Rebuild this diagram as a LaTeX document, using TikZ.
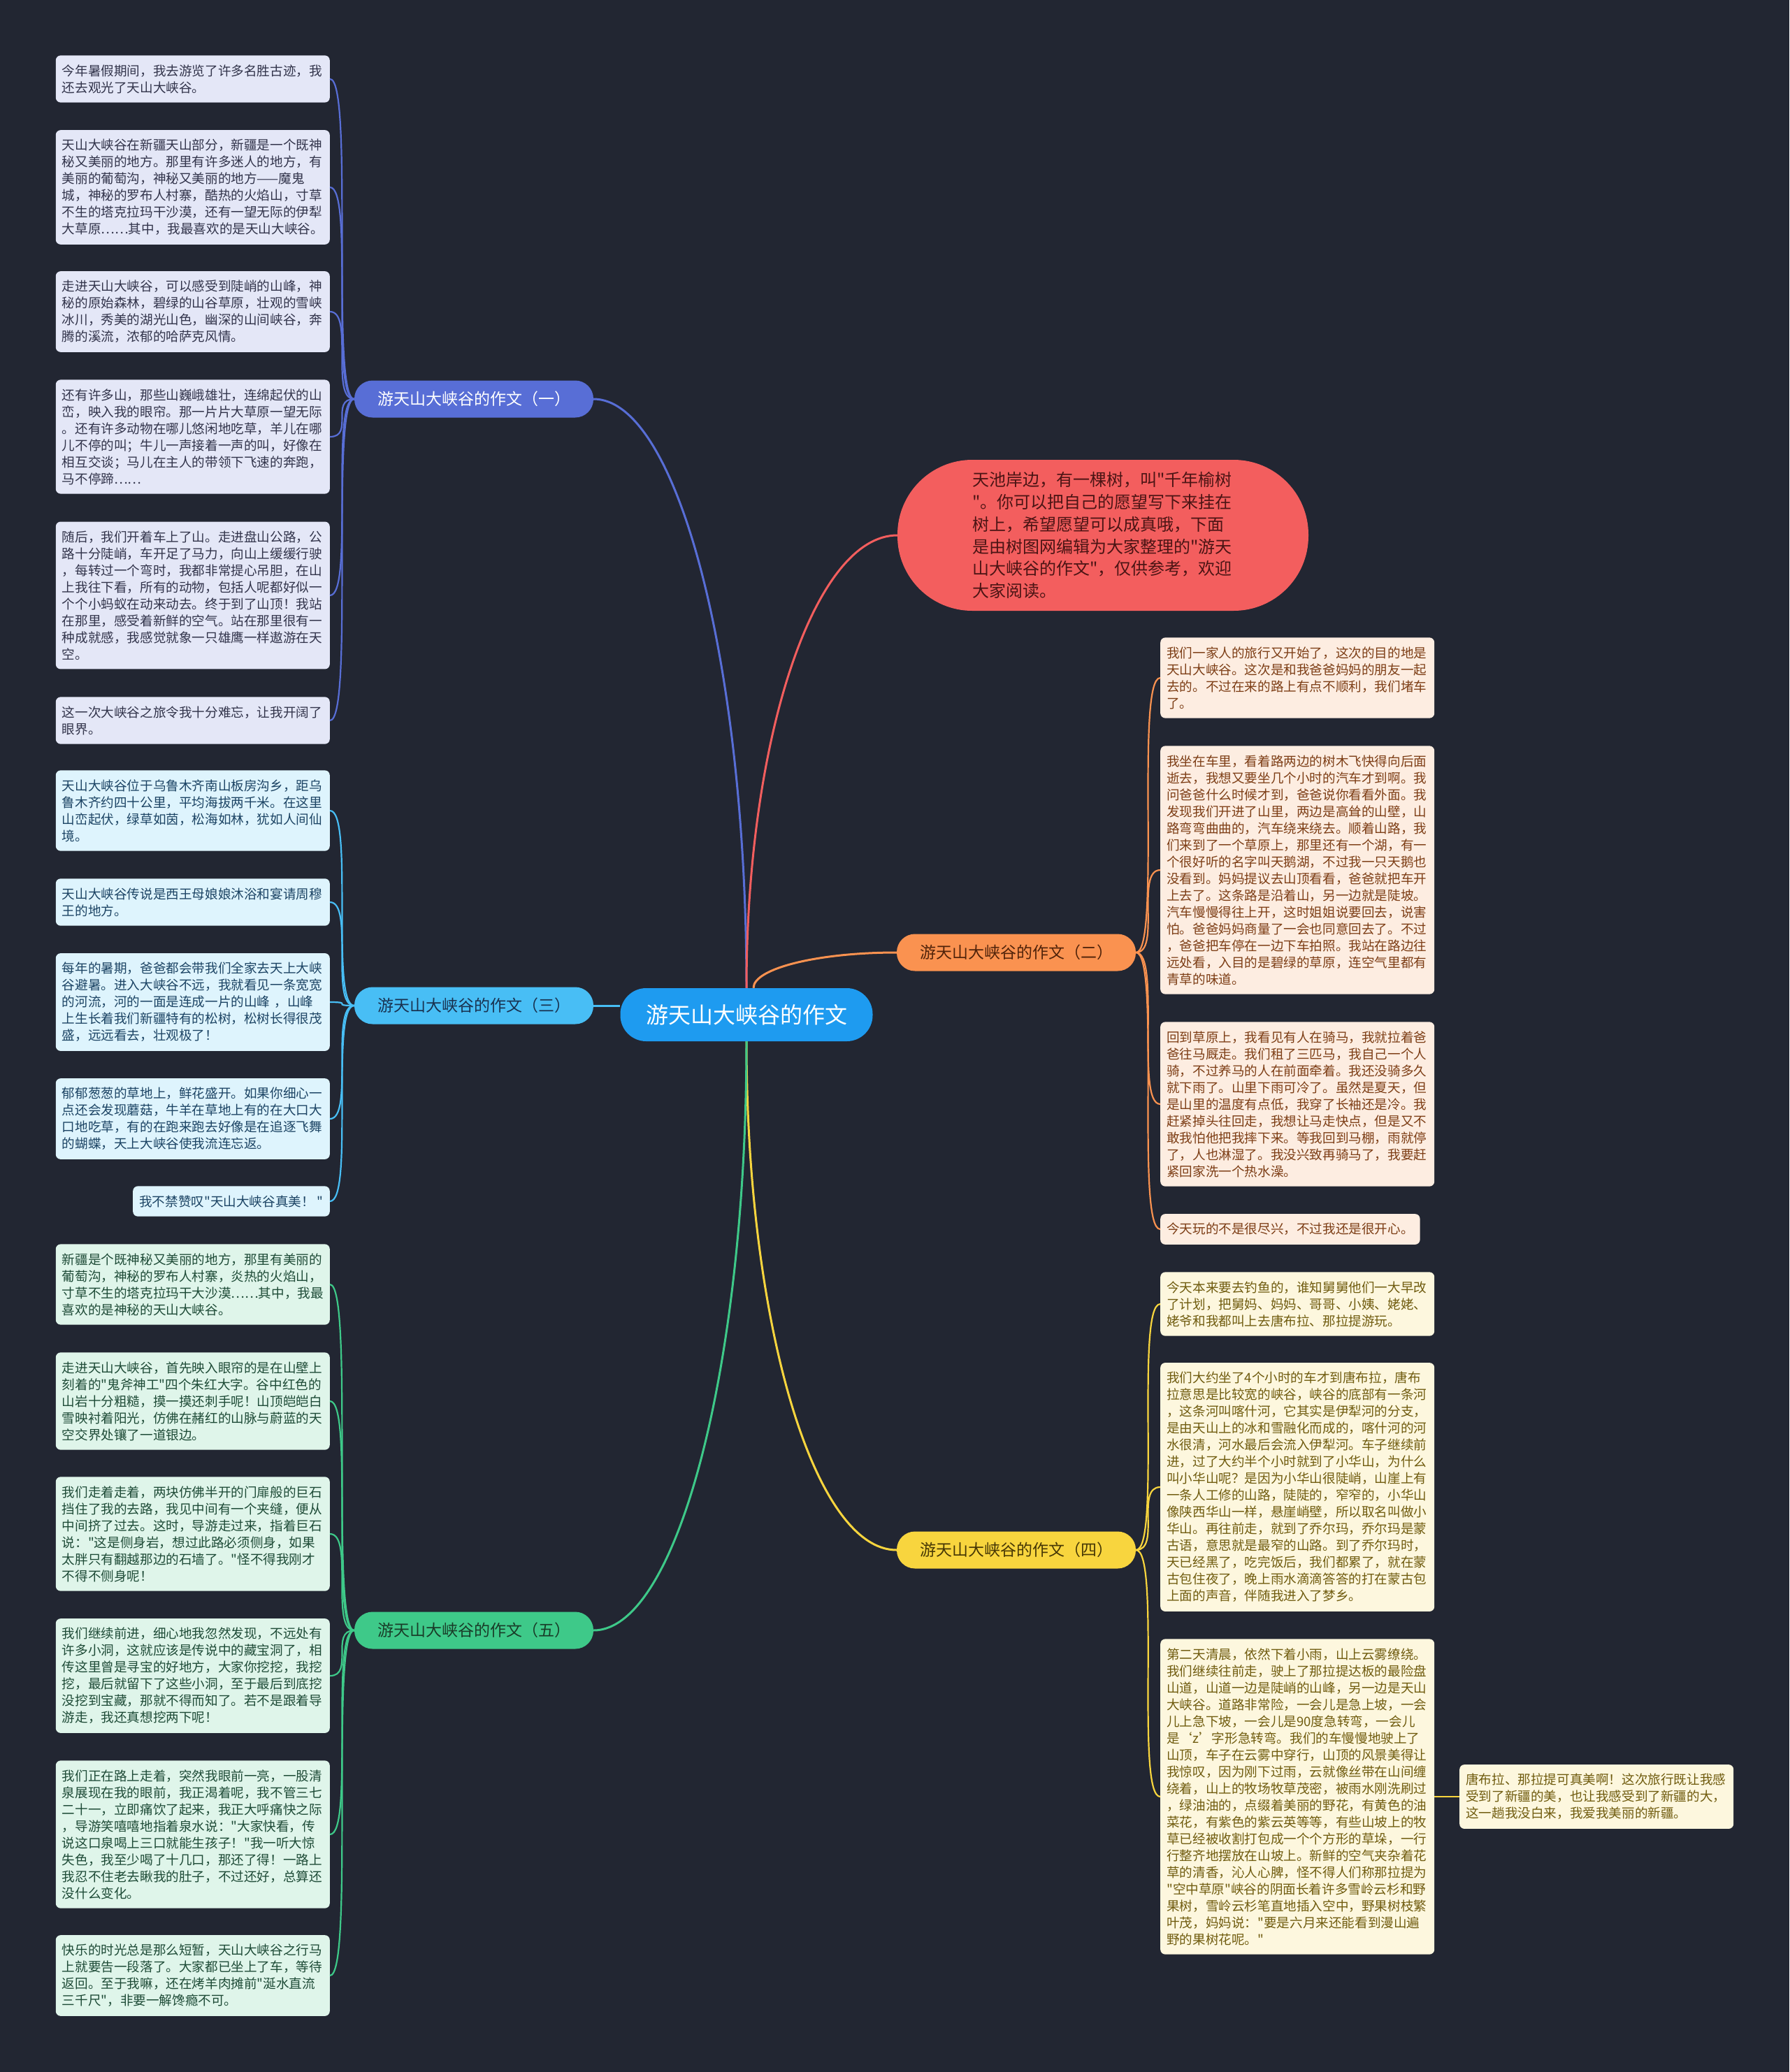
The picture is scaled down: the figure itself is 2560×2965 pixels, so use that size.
\documentclass[tikz,border=0pt]{standalone}
\usepackage{fontspec}
\newfontfamily\cjkfont{Noto Sans CJK SC}
\definecolor{bgcol}{RGB}{34,38,50}
\definecolor{rootcol}{RGB}{30,155,240}
\definecolor{introcol}{RGB}{243,94,94}
\definecolor{introtext}{RGB}{75,20,20}
\definecolor{onecol}{RGB}{88,110,214}
\definecolor{onefill}{RGB}{228,231,247}
\definecolor{onetext}{RGB}{50,52,75}
\definecolor{twocol}{RGB}{250,146,80}
\definecolor{twofill}{RGB}{253,237,225}
\definecolor{twotext}{RGB}{125,62,22}
\definecolor{twodark}{RGB}{80,35,10}
\definecolor{threecol}{RGB}{72,190,245}
\definecolor{threefill}{RGB}{222,244,253}
\definecolor{threetext}{RGB}{28,68,100}
\definecolor{threedark}{RGB}{25,50,80}
\definecolor{fourcol}{RGB}{248,213,62}
\definecolor{fourfill}{RGB}{253,247,222}
\definecolor{fourtext}{RGB}{112,92,15}
\definecolor{fourdark}{RGB}{70,55,5}
\definecolor{fivecol}{RGB}{62,201,137}
\definecolor{fivefill}{RGB}{223,245,234}
\definecolor{fivetext}{RGB}{30,75,55}
\definecolor{fivedark}{RGB}{25,60,40}

\begin{document}
\begin{tikzpicture}[
    x=1pt,
    y=-1pt,
    rootnode/.style={fill=rootcol, text=white, rounded corners=37pt, minimum width=361pt, minimum height=76pt, inner sep=0pt, font=\cjkfont\fontsize{32}{38}\selectfont},
    topic/.style={rounded corners=26pt, minimum width=342pt, minimum height=53pt, inner sep=0pt, font=\cjkfont\fontsize{23}{28}\selectfont},
    leaf/.style={rounded corners=7pt, inner xsep=9pt, inner ysep=13pt, align=left, font=\cjkfont\fontsize{18.6}{24}\selectfont},
    fullw/.style={text width=374pt},
    oneleaf/.style={leaf, fill=onefill, text=onetext, anchor=east},
    threeleaf/.style={leaf, fill=threefill, text=threetext, anchor=east},
    fiveleaf/.style={leaf, fill=fivefill, text=fivetext, anchor=east},
    twoleaf/.style={leaf, fill=twofill, text=twotext, anchor=west},
    fourleaf/.style={leaf, fill=fourfill, text=fourtext, anchor=west},
    rootline/.style={line width=3pt},
    leafline/.style={line width=2.2pt}
]
\useasboundingbox (0,0) rectangle (2560,2965);
\fill[bgcol] (0,0) rectangle (2560,2965);

\node[rootnode] (root) at (1068,1452) {游天山大峡谷的作文};

\node[topic, fill=onecol, text=white] (t1) at (678,571) {游天山大峡谷的作文（一）};
\node[topic, fill=twocol, text=twodark] (t2) at (1454,1363) {游天山大峡谷的作文（二）};
\node[topic, fill=threecol, text=threedark] (t3) at (678,1439) {游天山大峡谷的作文（三）};
\node[topic, fill=fourcol, text=fourdark] (t4) at (1454,2218) {游天山大峡谷的作文（四）};
\node[topic, fill=fivecol, text=fivedark] (t5) at (678,2333) {游天山大峡谷的作文（五）};

\node[fill=introcol, text=introtext, rounded corners=107pt, minimum width=588pt, minimum height=216pt, text width=374pt, align=left, font=\cjkfont\fontsize{24}{31.8}\selectfont] (intro) at (1578,766)
  {天池岸边，有一棵树，叫"千年榆树\\"。你可以把自己的愿望写下来挂在\\树上，希望愿望可以成真哦，下面\\是由树图网编辑为大家整理的"游天\\山大峡谷的作文"，仅供参考，欢迎\\大家阅读。};

\node[oneleaf, fullw] (a1) at (472,113) {今年暑假期间，我去游览了许多名胜古迹，我\\还去观光了天山大峡谷。};
\node[oneleaf, fullw] (a2) at (472,268) {天山大峡谷在新疆天山部分，新疆是一个既神\\秘又美丽的地方。那里有许多迷人的地方，有\\美丽的葡萄沟，神秘又美丽的地方——魔鬼\\城，神秘的罗布人村寨，酷热的火焰山，寸草\\不生的塔克拉玛干沙漠，还有一望无际的伊犁\\大草原……其中，我最喜欢的是天山大峡谷。};
\node[oneleaf, fullw] (a3) at (472,446) {走进天山大峡谷，可以感受到陡峭的山峰，神\\秘的原始森林，碧绿的山谷草原，壮观的雪峡\\冰川，秀美的湖光山色，幽深的山间峡谷，奔\\腾的溪流，浓郁的哈萨克风情。};
\node[oneleaf, fullw] (a4) at (472,625) {还有许多山，那些山巍峨雄壮，连绵起伏的山\\峦，映入我的眼帘。那一片片大草原一望无际\\。还有许多动物在哪儿悠闲地吃草，羊儿在哪\\儿不停的叫；牛儿一声接着一声的叫，好像在\\相互交谈；马儿在主人的带领下飞速的奔跑，\\马不停蹄……};
\node[oneleaf, fullw] (a5) at (472,852) {随后，我们开着车上了山。走进盘山公路，公\\路十分陡峭，车开足了马力，向山上缓缓行驶\\，每转过一个弯时，我都非常提心吊胆，在山\\上我往下看，所有的动物，包括人呢都好似一\\个个小蚂蚁在动来动去。终于到了山顶！我站\\在那里，感受着新鲜的空气。站在那里很有一\\种成就感，我感觉就象一只雄鹰一样遨游在天\\空。};
\node[oneleaf, fullw] (a6) at (472,1031) {这一次大峡谷之旅令我十分难忘，让我开阔了\\眼界。};

\node[threeleaf, fullw] (c1) at (472,1160) {天山大峡谷位于乌鲁木齐南山板房沟乡，距乌\\鲁木齐约四十公里，平均海拔两千米。在这里\\山峦起伏，绿草如茵，松海如林，犹如人间仙\\境。};
\node[threeleaf, fullw] (c2) at (472,1291) {天山大峡谷传说是西王母娘娘沐浴和宴请周穆\\王的地方。};
\node[threeleaf, fullw] (c3) at (472,1434) {每年的暑期，爸爸都会带我们全家去天上大峡\\谷避暑。进入大峡谷不远，我就看见一条宽宽\\的河流，河的一面是连成一片的山峰 ，山峰\\上生长着我们新疆特有的松树，松树长得很茂\\盛，远远看去，壮观极了！};
\node[threeleaf, fullw] (c4) at (472,1601) {郁郁葱葱的草地上，鲜花盛开。如果你细心一\\点还会发现蘑菇，牛羊在草地上有的在大口大\\口地吃草，有的在跑来跑去好像是在追逐飞舞\\的蝴蝶，天上大峡谷使我流连忘返。};
\node[threeleaf] (c5) at (472,1719) {我不禁赞叹"天山大峡谷真美！ "};

\node[fiveleaf, fullw] (e1) at (472,1838) {新疆是个既神秘又美丽的地方，那里有美丽的\\葡萄沟，神秘的罗布人村寨，炎热的火焰山，\\寸草不生的塔克拉玛干大沙漠……其中，我最\\喜欢的是神秘的天山大峡谷。};
\node[fiveleaf, fullw] (e2) at (472,2005) {走进天山大峡谷，首先映入眼帘的是在山壁上\\刻着的"鬼斧神工"四个朱红大字。谷中红色的\\山岩十分粗糙，摸一摸还刺手呢！山顶皑皑白\\雪映衬着阳光，仿佛在赭红的山脉与蔚蓝的天\\空交界处镶了一道银边。};
\node[fiveleaf, fullw] (e3) at (472,2195) {我们走着走着，两块仿佛半开的门扉般的巨石\\挡住了我的去路，我见中间有一个夹缝，便从\\中间挤了过去。这时，导游走过来，指着巨石\\说："这是侧身岩，想过此路必须侧身，如果\\太胖只有翻越那边的石墙了。"怪不得我刚才\\不得不侧身呢！};
\node[fiveleaf, fullw] (e4) at (472,2398) {我们继续前进，细心地我忽然发现，不远处有\\许多小洞，这就应该是传说中的藏宝洞了，相\\传这里曾是寻宝的好地方，大家你挖挖，我挖\\挖，最后就留下了这些小洞，至于最后到底挖\\没挖到宝藏，那就不得而知了。若不是跟着导\\游走，我还真想挖两下呢！};
\node[fiveleaf, fullw] (e5) at (472,2625) {我们正在路上走着，突然我眼前一亮，一股清\\泉展现在我的眼前，我正渴着呢，我不管三七\\二十一，立即痛饮了起来，我正大呼痛快之际\\，导游笑嘻嘻地指着泉水说："大家快看，传\\说这口泉喝上三口就能生孩子！"我一听大惊\\失色，我至少喝了十几口，那还了得！一路上\\我忍不住老去瞅我的肚子，不过还好，总算还\\没什么变化。};
\node[fiveleaf, fullw] (e6) at (472,2827) {快乐的时光总是那么短暂，天山大峡谷之行马\\上就要告一段落了。大家都已坐上了车，等待\\返回。至于我嘛，还在烤羊肉摊前"涎水直流\\三千尺"，非要一解馋瘾不可。};

\node[twoleaf, fullw] (b1) at (1660,970) {我们一家人的旅行又开始了，这次的目的地是\\天山大峡谷。这次是和我爸爸妈妈的朋友一起\\去的。不过在来的路上有点不顺利，我们堵车\\了。};
\node[twoleaf, fullw] (b2) at (1660,1245) {我坐在车里，看着路两边的树木飞快得向后面\\逝去，我想又要坐几个小时的汽车才到啊。我\\问爸爸什么时候才到，爸爸说你看看外面。我\\发现我们开进了山里，两边是高耸的山壁，山\\路弯弯曲曲的，汽车绕来绕去。顺着山路，我\\们来到了一个草原上，那里还有一个湖，有一\\个很好听的名字叫天鹅湖，不过我一只天鹅也\\没看到。妈妈提议去山顶看看，爸爸就把车开\\上去了。这条路是沿着山，另一边就是陡坡。\\汽车慢慢得往上开，这时姐姐说要回去，说害\\怕。爸爸妈妈商量了一会也同意回去了。不过\\，爸爸把车停在一边下车拍照。我站在路边往\\远处看，入目的是碧绿的草原，连空气里都有\\青草的味道。};
\node[twoleaf, fullw] (b3) at (1660,1580) {回到草原上，我看见有人在骑马，我就拉着爸\\爸往马厩走。我们租了三匹马，我自己一个人\\骑，不过养马的人在前面牵着。我还没骑多久\\就下雨了。山里下雨可冷了。虽然是夏天，但\\是山里的温度有点低，我穿了长袖还是冷。我\\赶紧掉头往回走，我想让马走快点，但是又不\\敢我怕他把我摔下来。等我回到马棚，雨就停\\了，人也淋湿了。我没兴致再骑马了，我要赶\\紧回家洗一个热水澡。};
\node[twoleaf] (b4) at (1660,1759) {今天玩的不是很尽兴，不过我还是很开心。};

\node[fourleaf, fullw] (d1) at (1660,1866) {今天本来要去钓鱼的，谁知舅舅他们一大早改\\了计划，把舅妈、妈妈、哥哥、小姨、姥姥、\\姥爷和我都叫上去唐布拉、那拉提游玩。};
\node[fourleaf, fullw] (d2) at (1660,2128) {我们大约坐了4个小时的车才到唐布拉，唐布\\拉意思是比较宽的峡谷，峡谷的底部有一条河\\，这条河叫喀什河，它其实是伊犁河的分支，\\是由天山上的冰和雪融化而成的，喀什河的河\\水很清，河水最后会流入伊犁河。车子继续前\\进，过了大约半个小时就到了小华山，为什么\\叫小华山呢？是因为小华山很陡峭，山崖上有\\一条人工修的山路，陡陡的，窄窄的，小华山\\像陕西华山一样，悬崖峭壁，所以取名叫做小\\华山。再往前走，就到了乔尔玛，乔尔玛是蒙\\古语，意思就是最窄的山路。到了乔尔玛时，\\天已经黑了，吃完饭后，我们都累了，就在蒙\\古包住夜了，晚上雨水滴滴答答的打在蒙古包\\上面的声音，伴随我进入了梦乡。};
\node[fourleaf, fullw] (d3) at (1660,2571) {第二天清晨，依然下着小雨，山上云雾缭绕。\\我们继续往前走，驶上了那拉提达板的最险盘\\山道，山道一边是陡峭的山峰，另一边是天山\\大峡谷。道路非常险，一会儿是急上坡，一会\\儿上急下坡，一会儿是90度急转弯，一会儿\\是‘z’字形急转弯。我们的车慢慢地驶上了\\山顶，车子在云雾中穿行，山顶的风景美得让\\我惊叹，因为刚下过雨，云就像丝带在山间缠\\绕着，山上的牧场牧草茂密，被雨水刚洗刷过\\，绿油油的，点缀着美丽的野花，有黄色的油\\菜花，有紫色的紫云英等等，有些山坡上的牧\\草已经被收割打包成一个个方形的草垛，一行\\行整齐地摆放在山坡上。新鲜的空气夹杂着花\\草的清香，沁人心脾，怪不得人们称那拉提为\\"空中草原"峡谷的阴面长着许多雪岭云杉和野\\果树，雪岭云杉笔直地插入空中，野果树枝繁\\叶茂，妈妈说："要是六月来还能看到漫山遍\\野的果树花呢。"};
\node[fourleaf, fullw] (d5) at (2088,2571) {唐布拉、那拉提可真美啊！这次旅行既让我感\\受到了新疆的美，也让我感受到了新疆的大，\\这一趟我没白来，我爱我美丽的新疆。};

\draw[rootline, onecol] (root.north) .. controls +(0,-464) and +(120,0) .. (t1.east);
\draw[rootline, introcol] (root.north) .. controls +(0,-356) and +(-119,0) .. (intro.west);
\draw[rootline, twocol] ([xshift=10pt]root.north) .. controls +(0,-28) and +(-113,0) .. (t2.west);
\draw[rootline, threecol] (root.west |- t3.east) -- (t3.east);
\draw[rootline, fourcol] (root.south) .. controls +(0,400) and +(-119,0) .. (t4.west);
\draw[rootline, fivecol] (root.south) .. controls +(0,464) and +(120,0) .. (t5.east);

\draw[leafline, onecol] (t1.west) .. controls +(-35,0) and +(35,0) .. (a1.east);
\draw[leafline, onecol] (t1.west) .. controls +(-35,0) and +(35,0) .. (a2.east);
\draw[leafline, onecol] (t1.west) .. controls +(-35,0) and +(35,0) .. (a3.east);
\draw[leafline, onecol] (t1.west) .. controls +(-35,0) and +(35,0) .. (a4.east);
\draw[leafline, onecol] (t1.west) .. controls +(-35,0) and +(35,0) .. (a5.east);
\draw[leafline, onecol] (t1.west) .. controls +(-35,0) and +(35,0) .. (a6.east);

\draw[leafline, threecol] (t3.west) .. controls +(-35,0) and +(35,0) .. (c1.east);
\draw[leafline, threecol] (t3.west) .. controls +(-35,0) and +(35,0) .. (c2.east);
\draw[leafline, threecol] (t3.west) .. controls +(-35,0) and +(35,0) .. (c3.east);
\draw[leafline, threecol] (t3.west) .. controls +(-35,0) and +(35,0) .. (c4.east);
\draw[leafline, threecol] (t3.west) .. controls +(-35,0) and +(35,0) .. (c5.east);

\draw[leafline, fivecol] (t5.west) .. controls +(-35,0) and +(35,0) .. (e1.east);
\draw[leafline, fivecol] (t5.west) .. controls +(-35,0) and +(35,0) .. (e2.east);
\draw[leafline, fivecol] (t5.west) .. controls +(-35,0) and +(35,0) .. (e3.east);
\draw[leafline, fivecol] (t5.west) .. controls +(-35,0) and +(35,0) .. (e4.east);
\draw[leafline, fivecol] (t5.west) .. controls +(-35,0) and +(35,0) .. (e5.east);
\draw[leafline, fivecol] (t5.west) .. controls +(-35,0) and +(35,0) .. (e6.east);

\draw[leafline, twocol] (t2.east) .. controls +(36,0) and +(-36,0) .. (b1.west);
\draw[leafline, twocol] (t2.east) .. controls +(36,0) and +(-36,0) .. (b2.west);
\draw[leafline, twocol] (t2.east) .. controls +(36,0) and +(-36,0) .. (b3.west);
\draw[leafline, twocol] (t2.east) .. controls +(36,0) and +(-36,0) .. (b4.west);

\draw[leafline, fourcol] (t4.east) .. controls +(36,0) and +(-36,0) .. (d1.west);
\draw[leafline, fourcol] (t4.east) .. controls +(36,0) and +(-36,0) .. (d2.west);
\draw[leafline, fourcol] (t4.east) .. controls +(36,0) and +(-36,0) .. (d3.west);
\draw[leafline, fourcol] (d3.east) -- (d5.west);
\end{tikzpicture}
\end{document}
